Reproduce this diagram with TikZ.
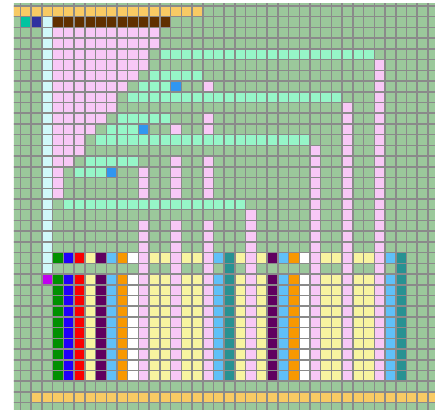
\documentclass[tikz,border=0pt]{standalone}
\definecolor{sage}{RGB}{155,200,155}
\definecolor{lattice}{RGB}{138,138,138}
\definecolor{petal}{RGB}{248,200,246}
\definecolor{mint}{RGB}{150,246,200}
\definecolor{frost}{RGB}{208,248,250}
\definecolor{honey}{RGB}{248,202,100}
\definecolor{cocoa}{RGB}{96,48,0}
\definecolor{jade}{RGB}{0,196,160}
\definecolor{navyink}{RGB}{48,48,160}
\definecolor{sky}{RGB}{48,150,240}
\definecolor{bargreen}{RGB}{0,144,0}
\definecolor{barblue}{RGB}{32,0,250}
\definecolor{barred}{RGB}{250,0,0}
\definecolor{cream}{RGB}{248,244,160}
\definecolor{plum}{RGB}{96,0,96}
\definecolor{azure}{RGB}{96,192,248}
\definecolor{tangerine}{RGB}{248,152,0}
\definecolor{deepteal}{RGB}{40,146,146}
\definecolor{orchid}{RGB}{192,0,240}
\tikzset{
  gridline/.style={draw=lattice,line width=1.2pt,xstep=3mm,ystep=3mm},
  ground/.style={fill=sage},
}
% one cell: column, row, colour
\newcommand\tile[3]{\fill[#3] (#1,-#2) rectangle ++(1,-1);}
% a row of cells: first column, last column, row, colour
\newcommand\hrun[4]{\foreach \hx in {#1,...,#2} {\tile{\hx}{#3}{#4}}}
% a column of cells: column, first row, last row, colour
\newcommand\vrun[4]{\foreach \vy in {#2,...,#3} {\tile{#1}{\vy}{#4}}}

\begin{document}
\begin{tikzpicture}[x=3mm,y=3mm]
  \useasboundingbox (-0.914,0.56) rectangle (39.66,-37.78);
  \begin{scope}
    \clip (0.39,0.25) rectangle (39.66,-37.6);
    \fill[ground] (0,1) rectangle (40,-38);
    % top and bottom bands
    \hrun{0}{17}{0}{honey}
    \hrun{2}{39}{36}{honey}
    \tile{1}{1}{jade}
    \tile{2}{1}{navyink}
    \hrun{4}{14}{1}{cocoa}
    \vrun{3}{1}{24}{frost}
    \tile{3}{25}{orchid}
    % staircase
    \foreach \r/\e in {2/13,3/13,4/12,5/12,6/11,7/10,8/9,9/9,10/8,11/7,12/6,13/6,14/5,15/4,16/4,17/4}
      \hrun{4}{\e}{\r}{petal};
    % mint rungs
    \foreach \r/\s/\e in {4/14/33,6/13/17,7/12/14,8/11/30,10/10/14,11/9/11,12/8/27,14/7/11,15/6/8,18/5/21}
      \hrun{\s}{\e}{\r}{mint};
    \foreach \k/\r in {15/7,12/11,9/15} \tile{\k}{\r}{sky};
    % pink wires
    \tile{18}{7}{petal}
    \vrun{18}{10}{11}{petal}
    \tile{15}{11}{petal}
    \foreach \k in {12,15,18} \vrun{\k}{14}{17}{petal};
    \tile{12}{14}{sage}
    \foreach \k/\t in {12/20,15/20,18/20,22/19,28/13,31/9,34/5}
      \vrun{\k}{\t}{34}{petal};
    % colour bars
    \foreach \k/\cc in {4/bargreen,5/barblue,6/barred,7/cream,8/plum,9/azure,10/tangerine,11/white,
        13/cream,14/cream,16/cream,17/cream,19/azure,21/cream,23/cream,24/plum,25/azure,
        26/tangerine,27/white,29/cream,30/cream,32/cream,33/cream,35/azure}
      {\tile{\k}{23}{\cc} \vrun{\k}{25}{34}{\cc}}
    \foreach \k in {20,36} \vrun{\k}{23}{34}{deepteal};
    \draw[gridline] (0,1) grid (40,-38);
  \end{scope}
\end{tikzpicture}
\end{document}
